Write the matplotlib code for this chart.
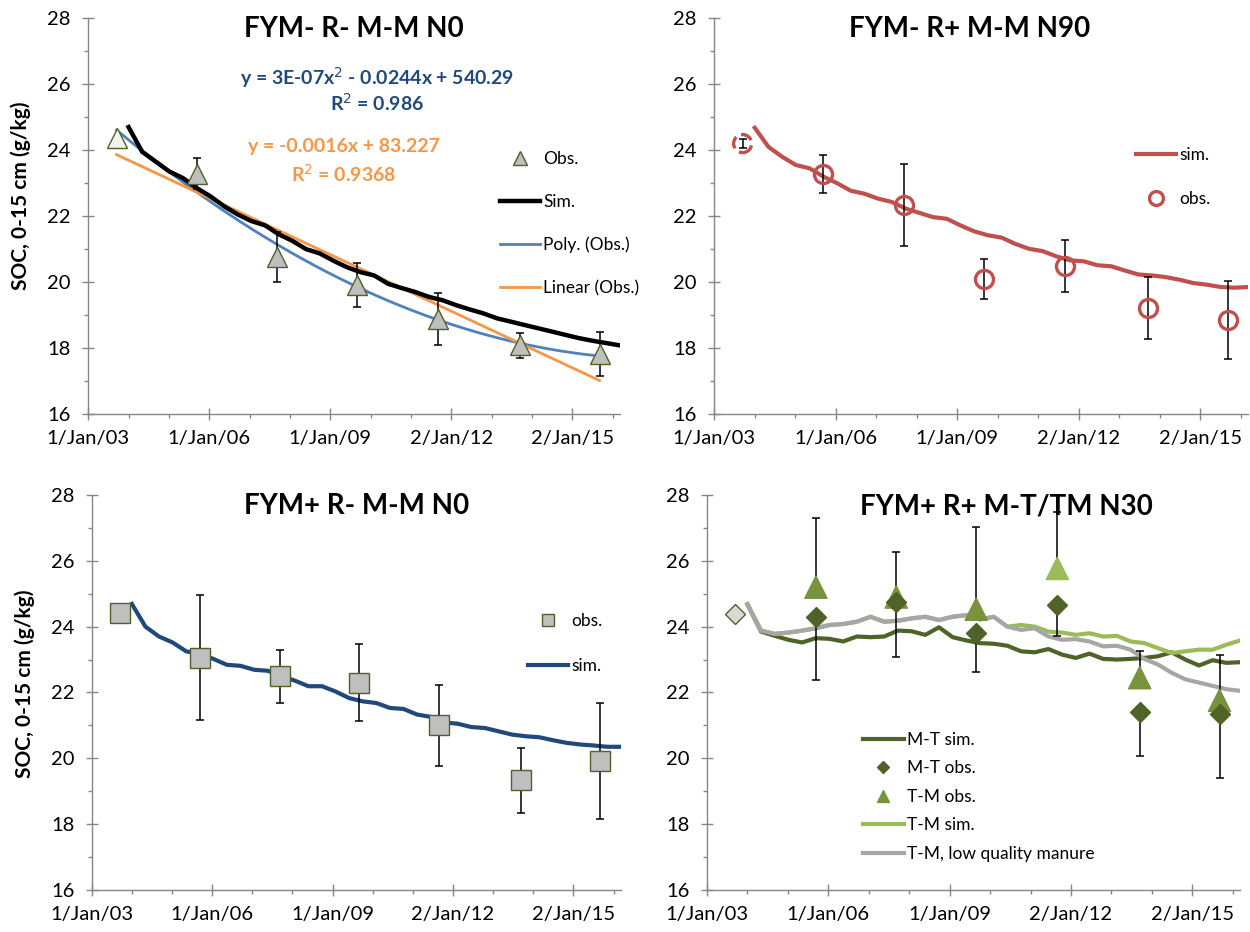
"""plot.py: Observed and simulated SOC (0-15 cm) for four treatments."""

import numpy as np
import pandas as pd
import matplotlib.pyplot as plt
import matplotlib.dates as mdates
from matplotlib.lines import Line2D

plt.rcParams['font.family'] = ['Lato', 'DejaVu Sans']


#-=-=-=-
# data
#-=-=-=-

axis_start = '2003-01-01'
axis_days = 4815
tick_step = 1096
tick_labels = ['1/Jan/03', '1/Jan/06', '1/Jan/09', '2/Jan/12', '2/Jan/15']

obs_dates = ['2003-09-14', '2005-09-11', '2007-09-07', '2009-08-29',
			 '2011-09-01', '2013-09-14', '2015-09-05']
sim_start = '2004-01-01'

# FYM- R- M-M N0
obs1 = [24.38, 23.29, 20.76, 19.90, 18.88, 18.08, 17.81]
err1 = [0.0, 0.47, 0.76, 0.67, 0.80, 0.38, 0.67]
sim1 = [24.70, 23.95, 23.65, 23.35, 23.15, 22.85, 22.60, 22.30, 22.05, 21.85,
		21.72, 21.45, 21.25, 21.00, 20.87, 20.65, 20.45, 20.30, 20.20, 19.95,
		19.82, 19.70, 19.55, 19.45, 19.30, 19.17, 19.05, 18.90, 18.80, 18.70,
		18.60, 18.50, 18.40, 18.30, 18.22, 18.15, 18.08]

# FYM- R+ M-M N90
obs2 = [24.20, 23.27, 22.33, 20.10, 20.49, 19.21, 18.86]
err2 = [0.13, 0.57, 1.25, 0.60, 0.80, 0.93, 1.18]
sim2 = [24.68, 24.10, 23.80, 23.55, 23.45, 23.20, 23.00, 22.77, 22.68, 22.53,
		22.43, 22.23, 22.10, 21.97, 21.92, 21.72, 21.54, 21.42, 21.35, 21.16,
		21.01, 20.94, 20.78, 20.66, 20.63, 20.51, 20.48, 20.35, 20.23, 20.20,
		20.15, 20.07, 19.97, 19.92, 19.85, 19.83, 19.85]

# FYM+ R- M-M N0
obs3 = [24.41, 23.05, 22.49, 22.29, 21.00, 19.33, 19.93]
err3 = [0.0, 1.90, 0.80, 1.17, 1.22, 0.98, 1.76]
sim3 = [24.69, 24.00, 23.70, 23.52, 23.25, 23.17, 23.02, 22.84, 22.81, 22.69,
		22.66, 22.50, 22.36, 22.19, 22.19, 22.03, 21.83, 21.73, 21.68, 21.53,
		21.50, 21.33, 21.26, 21.09, 21.05, 20.95, 20.92, 20.82, 20.72, 20.67,
		20.64, 20.55, 20.47, 20.42, 20.39, 20.35, 20.35]

# FYM+ R+ M-T/TM N30
mt_obs = [24.39, 24.28, 24.76, 23.80, 24.66, 21.40, 21.35]
mt_err_down = [0.0, 1.91, 1.67, 1.19, 0.95, 1.32, 1.94]
tm_obs = [25.20, 24.90, 24.53, 25.77, 22.45, 21.76]
tm_err_up = [2.09, 1.37, 2.51, 1.72, 0.80, 1.39]
mt_sim = [24.68, 23.85, 23.72, 23.60, 23.52, 23.65, 23.63, 23.55, 23.70, 23.68,
		  23.70, 23.88, 23.86, 23.75, 23.98, 23.68, 23.58, 23.50, 23.48, 23.42,
		  23.25, 23.22, 23.32, 23.15, 23.05, 23.18, 23.02, 23.00, 23.02, 23.05,
		  23.10, 23.22, 23.00, 22.82, 22.98, 22.90, 22.92]
tm_sim = [24.68, 23.88, 23.78, 23.82, 23.88, 23.95, 24.05, 24.08, 24.15, 24.30,
		  24.15, 24.18, 24.25, 24.30, 24.20, 24.30, 24.35, 24.22, 24.30, 24.00,
		  24.05, 24.00, 23.85, 23.82, 23.75, 23.80, 23.70, 23.72, 23.55, 23.50,
		  23.35, 23.20, 23.25, 23.30, 23.30, 23.45, 23.58]
tm_low = [24.68, 23.88, 23.78, 23.82, 23.88, 23.95, 24.05, 24.08, 24.15, 24.30,
		  24.15, 24.18, 24.25, 24.30, 24.20, 24.30, 24.35, 24.22, 24.30, 24.00,
		  23.90, 23.95, 23.70, 23.60, 23.62, 23.55, 23.40, 23.42, 23.30, 23.02,
		  22.85, 22.60, 22.40, 22.30, 22.20, 22.10, 22.05]


#-=-=-=-
# helpers
#-=-=-=-

t0 = pd.Timestamp(axis_start)
t1 = t0 + pd.Timedelta(days=axis_days)

def to_num(dates):
	return mdates.date2num(pd.to_datetime(dates).to_pydatetime())

x_obs = to_num(obs_dates)

def sim_x(values):
	return to_num(pd.date_range(sim_start, t1, periods=len(values)))

GRID = '#868686'
OLIVE = '#4F6228'

def style_axis(ax):
	ax.set_xlim(mdates.date2num(t0), mdates.date2num(t1))
	ax.set_ylim(16, 28)
	for s in ['top', 'right']:
		ax.spines[s].set_visible(False)
	for s in ['left', 'bottom']:
		ax.spines[s].set_color(GRID)
		ax.spines[s].set_linewidth(1.0)
	major = [mdates.date2num(t0) + tick_step * k for k in range(len(tick_labels))]
	minor = [mdates.date2num(t0) + tick_step / 3 * k for k in range(14)]
	ax.set_xticks(major)
	ax.set_xticklabels(tick_labels)
	ax.set_xticks(minor, minor=True)
	ax.set_yticks(range(16, 29, 2))
	ax.set_yticks(range(17, 28, 2), minor=True)
	ax.tick_params(which='major', direction='inout', length=9, width=1,
				   color=GRID, labelsize=14.5, pad=7)
	ax.tick_params(which='minor', direction='out', length=3, width=1, color=GRID)
	ax.tick_params(axis='y', which='major', pad=8)

def add_title(ax, text, x=0.5):
	ax.text(x, 0.972, text, transform=ax.transAxes, ha='center', va='center',
			fontsize=20, fontweight='bold')

def add_ylabel(ax, y):
	ax.text(-0.127, y, 'SOC, 0-15 cm (g/kg)', transform=ax.transAxes, rotation=90,
			ha='center', va='center', fontsize=15, fontweight='bold')

def add_legend(ax, handles, x, y, fs=12.5, spacing=1.55, hl=2.3):
	ax.legend(handles=handles, loc='upper left', bbox_to_anchor=(x, y),
			  frameon=False, fontsize=fs, borderpad=0, borderaxespad=0,
			  handlelength=hl, handletextpad=0.2, labelspacing=spacing)

def err_bars(ax, x, y, yerr):
	ax.errorbar(x, y, yerr=yerr, fmt='none', ecolor='black', elinewidth=1.1,
				capsize=3, capthick=1.1, zorder=3)

def equation(ax, x, y, text, color):
	ax.text(x, y, text, transform=ax.transAxes, ha='center', va='center',
			fontsize=14, fontweight='bold', color=color)


fig = plt.figure(figsize=(12.5, 9.32), dpi=100)
ax1 = fig.add_axes([0.0706, 0.5558, 0.4254, 0.4246])
ax2 = fig.add_axes([0.5714, 0.5558, 0.4272, 0.4246])
ax3 = fig.add_axes([0.0734, 0.0451, 0.4232, 0.4238])
ax4 = fig.add_axes([0.5656, 0.0451, 0.4264, 0.4238])


#-=-=-=-
# FYM- R- M-M N0
#-=-=-=-

# trendlines fitted on the observations (Excel serial dates)
serial = x_obs + 25569
poly = np.polyfit(serial, obs1, 2)
lin = np.polyfit(serial, obs1, 1)
xs = np.linspace(serial[0], serial[-1], 200)

ax1.plot(xs - 25569, np.polyval(poly, xs), color='#4F81BD', lw=2, zorder=2)
ax1.plot(xs - 25569, np.polyval(lin, xs), color='#F79646', lw=2, zorder=2)
ax1.plot(sim_x(sim1), sim1, color='black', lw=3.2, zorder=2.5)
err_bars(ax1, x_obs, obs1, err1)
ax1.plot(x_obs[:1], obs1[:1], '^', ms=15, mfc='#F2F2F2', mec=OLIVE, mew=1, zorder=4)
ax1.plot(x_obs[1:], obs1[1:], '^', ms=15, mfc='#BFBFBF', mec=OLIVE, mew=1, ls='none', zorder=4)

equation(ax1, 0.543, 0.85, 'y = 3E-07x$^2$ - 0.0244x + 540.29', '#1F497D')
equation(ax1, 0.543, 0.785, 'R$^2$ = 0.986', '#1F497D')
equation(ax1, 0.481, 0.675, 'y = -0.0016x + 83.227', '#F79646')
equation(ax1, 0.481, 0.608, 'R$^2$ = 0.9368', '#F79646')

style_axis(ax1)
add_title(ax1, 'FYM- R- M-M N0')
add_ylabel(ax1, 0.551)
add_legend(ax1, [
	Line2D([], [], ls='none', marker='^', ms=9.5, mfc='#BFBFBF', mec=OLIVE, mew=1, label='Obs.'),
	Line2D([], [], color='black', lw=3.2, label='Sim.'),
	Line2D([], [], color='#4F81BD', lw=2, label='Poly. (Obs.)'),
	Line2D([], [], color='#F79646', lw=2, label='Linear (Obs.)'),
], 0.774, 0.665)


#-=-=-=-
# FYM- R+ M-M N90
#-=-=-=-

RED = '#C0504D'
ax2.plot(sim_x(sim2), sim2, color=RED, lw=3, zorder=2)
err_bars(ax2, x_obs, obs2, err2)
ax2.scatter(x_obs[:1], obs2[:1], s=13 ** 2, facecolors='none', edgecolors=RED,
			linewidths=2.4, linestyles='--', zorder=4)
ax2.plot(x_obs[1:], obs2[1:], 'o', ms=13, mfc='none', mec=RED, mew=2.4, zorder=4)

style_axis(ax2)
add_title(ax2, 'FYM- R+ M-M N90', x=0.479)
add_legend(ax2, [
	Line2D([], [], color=RED, lw=3, label='sim.'),
	Line2D([], [], ls='none', marker='o', ms=10, mfc='none', mec=RED, mew=2.4, label='obs.'),
], 0.79, 0.674, spacing=1.6)


#-=-=-=-
# FYM+ R- M-M N0
#-=-=-=-

BLUE = '#1F497D'
ax3.plot(sim_x(sim3), sim3, color=BLUE, lw=3, zorder=2)
err_bars(ax3, x_obs, obs3, err3)
ax3.plot(x_obs, obs3, 's', ms=15, mfc='#BFBFBF', mec=OLIVE, mew=1, zorder=4)

style_axis(ax3)
add_title(ax3, 'FYM+ R- M-M N0')
add_ylabel(ax3, 0.521)
add_legend(ax3, [
	Line2D([], [], ls='none', marker='s', ms=8.5, mfc='#BFBFBF', mec=OLIVE, mew=1, label='obs.'),
	Line2D([], [], color=BLUE, lw=3, label='sim.'),
], 0.825, 0.700, spacing=1.64)


#-=-=-=-
# FYM+ R+ M-T/TM N30
#-=-=-=-

GREEN = '#77933C'
LIGHT = '#9BBB59'
GRAY = '#A6A6A6'
n_tm = len(tm_obs)
n_mt = len(mt_obs)

ax4.plot(sim_x(mt_sim), mt_sim, color=OLIVE, lw=3, zorder=2)
ax4.plot(sim_x(tm_sim), tm_sim, color=LIGHT, lw=3, zorder=2.1)
ax4.plot(sim_x(tm_low), tm_low, color=GRAY, lw=3, zorder=2.2)
err_bars(ax4, x_obs[1:], tm_obs, [[0] * n_tm, tm_err_up])
err_bars(ax4, x_obs, mt_obs, [mt_err_down, [0] * n_mt])
tm_colors = [GREEN, GREEN, GREEN, LIGHT, GREEN, GREEN]
ax4.scatter(x_obs[1:], tm_obs, s=16 ** 2, marker='^', c=tm_colors, zorder=4)
ax4.plot(x_obs[1:], mt_obs[1:], 'D', ms=10.2, color=OLIVE, ls='none', zorder=5)
ax4.plot(x_obs[:1], mt_obs[:1], 'D', ms=10.2, mfc='#D9D9D9', mec=OLIVE, mew=1, zorder=5)

style_axis(ax4)
add_title(ax4, 'FYM+ R+ M-T/TM N30', x=0.561)
add_legend(ax4, [
	Line2D([], [], color=OLIVE, lw=3, label='M-T sim.'),
	Line2D([], [], ls='none', marker='D', ms=6.6, color=OLIVE, label='M-T obs.'),
	Line2D([], [], ls='none', marker='^', ms=9, color=GREEN, label='T-M obs.'),
	Line2D([], [], color=LIGHT, lw=3, label='T-M sim.'),
	Line2D([], [], color=GRAY, lw=3, label='T-M, low quality manure'),
], 0.293, 0.400, fs=12.5, spacing=0.72, hl=2.34)

plt.savefig('out.png', dpi=100)
